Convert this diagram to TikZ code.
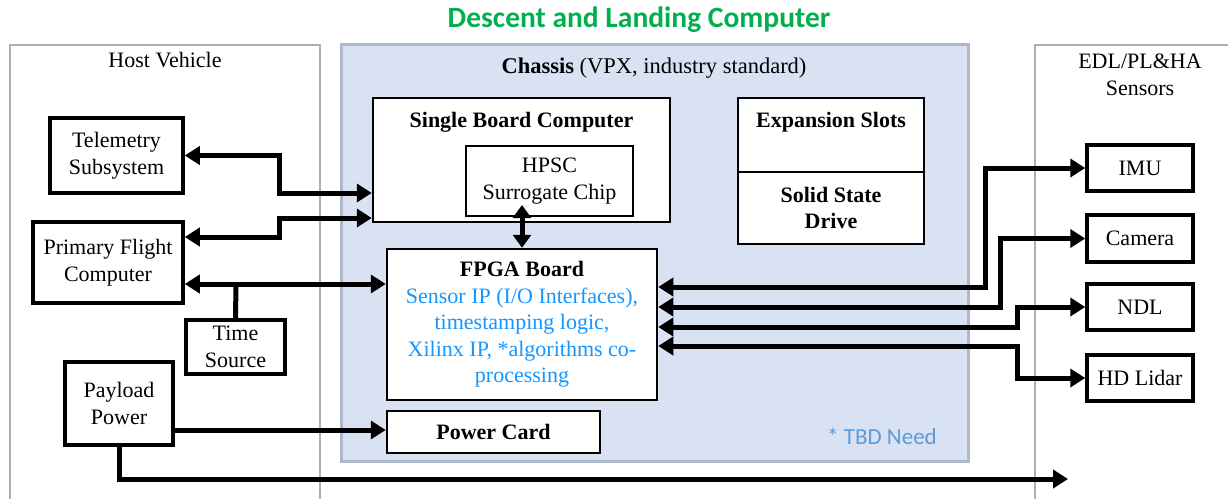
\documentclass[tikz,border=0pt]{standalone}
\usepackage{fontspec}
\setmainfont{Liberation Serif}
\newfontfamily\calib{Carlito}
\usetikzlibrary{arrows.meta}
\definecolor{titlegreen}{RGB}{0,176,80}
\definecolor{ipblue}{RGB}{20,150,255}
\definecolor{tbdblue}{RGB}{91,155,213}
\definecolor{chassisfill}{RGB}{217,226,243}
\definecolor{chassisline}{RGB}{173,185,202}
\definecolor{regionline}{RGB}{175,175,175}
\tikzset{
  txt/.style={font=\fontsize{22}{26.5}\selectfont, align=center, inner sep=0pt},
  boldtxt/.style={font=\bfseries\fontsize{22}{26.5}\selectfont},
  outerbox/.style={txt, draw=black, line width=3.5pt, fill=white},
  innerbox/.style={txt, draw=black, line width=2.5pt, fill=white},
  region/.style={draw=regionline, line width=2pt},
  tip/.tip={Triangle[length=15pt,width=18pt]},
  conn/.style={line width=5pt, draw=black},
  biconn/.style={conn, tip-tip},
  oneconn/.style={conn, -tip},
}
\begin{document}
\begin{tikzpicture}[x=1pt,y=-1pt]
\useasboundingbox (0,0) rectangle (1228,498);

% title
\node[txt, font=\calib\bfseries\fontsize{29.5}{33}\selectfont, text=titlegreen] (title) at (639,20) {Descent and Landing Computer};

% regions
\draw[region] (10,500) |- (320,45) -- (320,500);
\draw[region] (1035,500) |- (1232,45);
\node[txt] (hostlbl) at (165,60) {Host Vehicle};
\node[txt] (senslbl) at (1140,75) {EDL/PL\&HA\\Sensors};

% chassis
\node[draw=chassisline, fill=chassisfill, line width=3pt, minimum width=627pt, minimum height=417pt, inner sep=0pt] (chassis) at (654.5,252.5) {};
\node[txt, font=\fontsize{22.5}{26.5}\selectfont] (chassislbl) at (654,68) {\textbf{Chassis} (VPX, industry standard)};

% host vehicle units
\node[outerbox, minimum width=133pt, minimum height=75pt] (tel) at (116.5,155.5) {Telemetry\\Subsystem};
\node[outerbox, minimum width=150pt, minimum height=81pt] (pfc) at (108,262.5) {Primary Flight\\Computer};
\node[outerbox, minimum width=99pt, minimum height=54pt] (ts) at (235.5,347) {Time\\Source};
\node[outerbox, minimum width=108pt, minimum height=83pt] (pp) at (119,403.5) {Payload\\Power};

% chassis cards
\node[innerbox, minimum width=297pt, minimum height=124pt] (sbc) at (521.5,160) {};
\node[txt, boldtxt] (sbclbl) at (521.5,122) {Single Board Computer};
\node[innerbox, minimum width=167pt, minimum height=70pt] (hpsc) at (549.5,181) {HPSC\\Surrogate Chip};
\node[innerbox, minimum width=186pt, minimum height=74pt] (exp) at (831,135) {};
\node[txt, boldtxt] (explbl) at (831,122) {Expansion Slots};
\node[innerbox, boldtxt, minimum width=186pt, minimum height=72pt] (ssd) at (831,208) {Solid State\\Drive};
\node[innerbox, minimum width=270pt, minimum height=151pt] (fpga) at (522,324.5) {\textbf{FPGA Board}\\
  \color{ipblue}Sensor IP (I/O Interfaces),\\
  \color{ipblue}timestamping logic,\\
  \color{ipblue}Xilinx IP, *algorithms co-\\
  \color{ipblue}processing};
\node[innerbox, boldtxt, minimum width=213pt, minimum height=42pt] (pwr) at (493.5,432) {Power Card};
\node[txt, font=\calib\fontsize{23}{26}\selectfont, text=tbdblue] (tbd) at (882,436) {* TBD Need};

% sensors
\node[outerbox, minimum width=106pt, minimum height=46pt] (imu) at (1140,168) {IMU};
\node[outerbox, minimum width=106pt, minimum height=47pt] (cam) at (1140,238.5) {Camera};
\node[outerbox, minimum width=106pt, minimum height=46pt] (ndl) at (1140,307) {NDL};
\node[outerbox, minimum width=106pt, minimum height=46pt] (lidar) at (1140,378) {HD Lidar};

% bend points of the links
\coordinate (kt) at (279,193);
\coordinate (kp) at (279,218);
\coordinate (kpt) at (279,237);
\coordinate (tj) at (236,284);
\coordinate (pj) at (280,430);
\coordinate (ppend) at (1068,479);
\coordinate (hc) at (522,205);
\coordinate (ki) at (985,287);
\coordinate (kc) at (1000,307);
\coordinate (kn) at (1017,327);
\coordinate (kl) at (1017,346);

% host links
\draw[biconn] (tel.east) -| (kt) -- (kt -| sbc.west);
\draw[biconn] (pfc.east |- kpt) -| (kp) -- (kp -| sbc.west);
\draw[biconn] (pfc.east |- tj) -- (fpga.west |- tj);
\draw[conn] (ts.north) -- (tj);
\draw[oneconn] (pp.east |- pj) -- (pwr.west |- pj);
\draw[oneconn] (pp.south) |- (ppend);

% chip to FPGA
\draw[conn, {Triangle[length=13pt,width=18pt]}-{Triangle[length=13pt,width=18pt]}] (hc) -- (hc |- fpga.north);

% sensor links
\draw[biconn] (fpga.east |- ki) -- (ki) |- (imu.west);
\draw[biconn] (fpga.east |- kc) -- (kc) |- (cam.west);
\draw[biconn] (fpga.east |- kn) -- (kn) |- (ndl.west);
\draw[biconn] (fpga.east |- kl) -- (kl) |- (lidar.west);
\end{tikzpicture}
\end{document}
